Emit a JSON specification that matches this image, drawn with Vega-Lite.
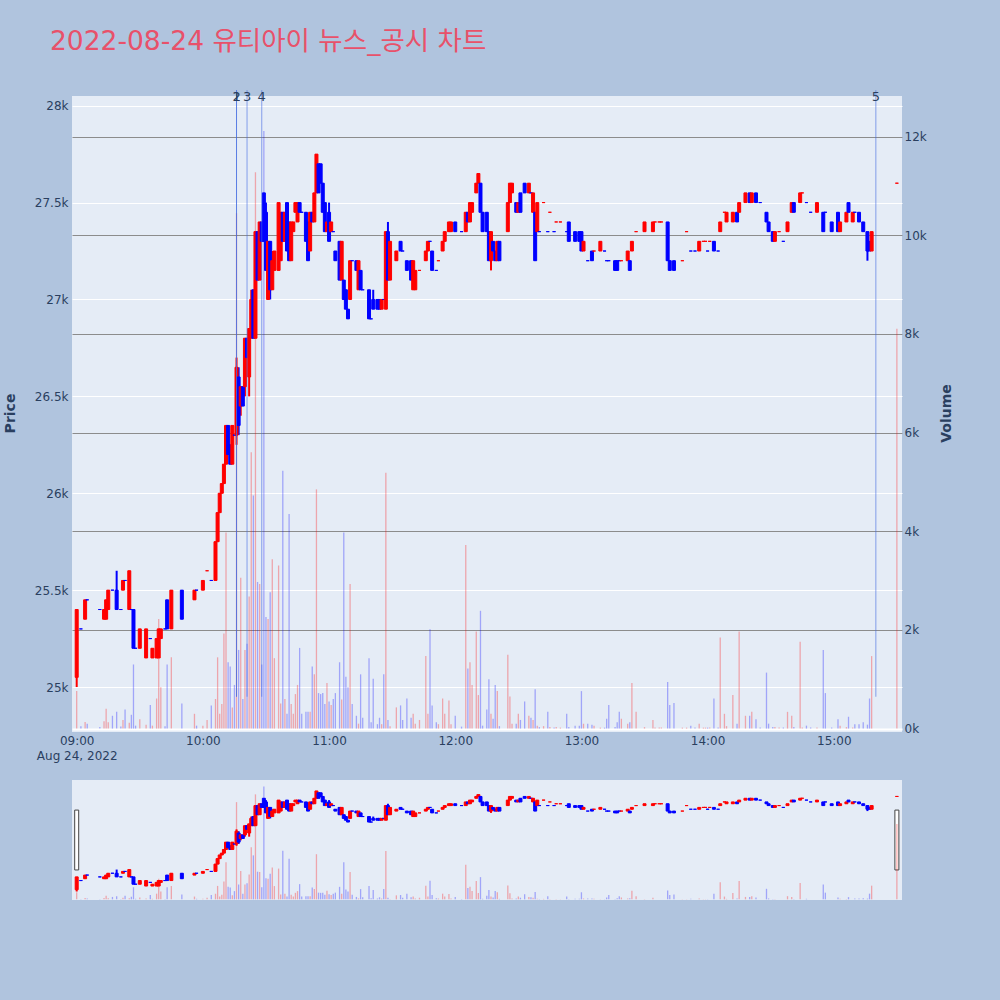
{
"$schema":"https://vega.github.io/schema/vega-lite/v6.json",
"autosize":"none","width":830,"height":804,
"padding":{"left":72,"top":96,"right":98,"bottom":100},
"background":"#B0C4DE",
"config":{"view":{"fill":"#E5ECF6","stroke":null},"axis":{"labelFont":"DejaVu Sans","titleFont":"DejaVu Sans","labelColor":"#2a3f5f","titleColor":"#2a3f5f","labelFontSize":12}},
"title":{"text":"2022-08-24 유티아이 뉴스_공시 차트","anchor":"start","frame":"group","font":"DejaVu Sans, Noto Sans CJK KR","fontSize":26.5,"fontWeight":"normal","color":"#E8516A","dx":-22,"offset":13,"baseline":"alphabetic"},
"datasets":{
"bars":[
{"t":"09:00","o":25050,"h":25400,"l":25000,"c":25400,"v":760,"d":"up"},
{"t":"09:02","o":25300,"h":25300,"l":25300,"c":25300,"v":50,"d":"down"},
{"t":"09:04","o":25350,"h":25450,"l":25350,"c":25450,"v":134,"d":"up"},
{"t":"09:05","o":25450,"h":25450,"l":25450,"c":25450,"v":100,"d":"down"},
{"t":"09:11","o":25400,"h":25400,"l":25400,"c":25400,"v":30,"d":"down"},
{"t":"09:13","o":25350,"h":25400,"l":25350,"c":25400,"v":150,"d":"up"},
{"t":"09:14","o":25350,"h":25450,"l":25350,"c":25450,"v":400,"d":"up"},
{"t":"09:15","o":25400,"h":25500,"l":25400,"c":25500,"v":130,"d":"up"},
{"t":"09:17","o":25500,"h":25500,"l":25500,"c":25500,"v":260,"d":"down"},
{"t":"09:19","o":25500,"h":25600,"l":25400,"c":25400,"v":340,"d":"down"},
{"t":"09:21","o":25400,"h":25400,"l":25400,"c":25400,"v":40,"d":"down"},
{"t":"09:22","o":25500,"h":25550,"l":25500,"c":25550,"v":175,"d":"up"},
{"t":"09:23","o":25550,"h":25550,"l":25550,"c":25550,"v":385,"d":"down"},
{"t":"09:25","o":25400,"h":25600,"l":25400,"c":25600,"v":120,"d":"up"},
{"t":"09:26","o":25400,"h":25400,"l":25400,"c":25400,"v":280,"d":"down"},
{"t":"09:27","o":25400,"h":25400,"l":25200,"c":25200,"v":1300,"d":"down"},
{"t":"09:28","o":25200,"h":25200,"l":25200,"c":25200,"v":60,"d":"down"},
{"t":"09:30","o":25200,"h":25300,"l":25200,"c":25300,"v":190,"d":"up"},
{"t":"09:33","o":25150,"h":25300,"l":25150,"c":25300,"v":80,"d":"up"},
{"t":"09:35","o":25250,"h":25250,"l":25250,"c":25250,"v":480,"d":"down"},
{"t":"09:36","o":25150,"h":25200,"l":25150,"c":25200,"v":60,"d":"up"},
{"t":"09:38","o":25150,"h":25250,"l":25150,"c":25250,"v":610,"d":"up"},
{"t":"09:39","o":25150,"h":25300,"l":25150,"c":25300,"v":2220,"d":"up"},
{"t":"09:40","o":25250,"h":25300,"l":25250,"c":25300,"v":840,"d":"up"},
{"t":"09:42","o":25300,"h":25300,"l":25300,"c":25300,"v":50,"d":"down"},
{"t":"09:43","o":25450,"h":25450,"l":25300,"c":25300,"v":1300,"d":"down"},
{"t":"09:45","o":25300,"h":25500,"l":25300,"c":25500,"v":1445,"d":"up"},
{"t":"09:50","o":25500,"h":25500,"l":25350,"c":25350,"v":510,"d":"down"},
{"t":"09:56","o":25450,"h":25500,"l":25450,"c":25500,"v":300,"d":"up"},
{"t":"09:57","o":25500,"h":25500,"l":25500,"c":25500,"v":60,"d":"down"},
{"t":"10:00","o":25500,"h":25550,"l":25500,"c":25550,"v":60,"d":"up"},
{"t":"10:02","o":25600,"h":25600,"l":25600,"c":25600,"v":175,"d":"up"},
{"t":"10:04","o":25550,"h":25550,"l":25550,"c":25550,"v":470,"d":"down"},
{"t":"10:06","o":25550,"h":25750,"l":25550,"c":25750,"v":600,"d":"up"},
{"t":"10:07","o":25750,"h":25900,"l":25750,"c":25900,"v":1445,"d":"up"},
{"t":"10:08","o":25900,"h":26000,"l":25900,"c":26000,"v":300,"d":"up"},
{"t":"10:09","o":26000,"h":26050,"l":26000,"c":26050,"v":500,"d":"up"},
{"t":"10:10","o":26050,"h":26150,"l":26050,"c":26150,"v":1930,"d":"up"},
{"t":"10:11","o":26150,"h":26350,"l":26150,"c":26350,"v":3975,"d":"up"},
{"t":"10:12","o":26350,"h":26350,"l":26200,"c":26200,"v":1345,"d":"down"},
{"t":"10:13","o":26250,"h":26250,"l":26150,"c":26150,"v":1260,"d":"down"},
{"t":"10:14","o":26150,"h":26350,"l":26150,"c":26350,"v":430,"d":"up"},
{"t":"10:15","o":26300,"h":26300,"l":26300,"c":26300,"v":885,"d":"down"},
{"t":"10:16","o":26300,"h":26700,"l":26250,"c":26650,"v":10446,"d":"up"},
{"t":"10:17","o":26600,"h":26650,"l":26300,"c":26350,"v":1595,"d":"down"},
{"t":"10:18","o":26450,"h":26550,"l":26400,"c":26550,"v":3056,"d":"up"},
{"t":"10:19","o":26550,"h":26550,"l":26450,"c":26450,"v":600,"d":"down"},
{"t":"10:20","o":26550,"h":26800,"l":26500,"c":26800,"v":1595,"d":"up"},
{"t":"10:21","o":26800,"h":26800,"l":26700,"c":26700,"v":1720,"d":"down"},
{"t":"10:22","o":26600,"h":26850,"l":26500,"c":26850,"v":2680,"d":"up"},
{"t":"10:23","o":26800,"h":27050,"l":26800,"c":27000,"v":5600,"d":"up"},
{"t":"10:24","o":27050,"h":27050,"l":26800,"c":26800,"v":4726,"d":"down"},
{"t":"10:25","o":26800,"h":27350,"l":26800,"c":27350,"v":11281,"d":"up"},
{"t":"10:26","o":27350,"h":27350,"l":27100,"c":27100,"v":2973,"d":"down"},
{"t":"10:27","o":27100,"h":27400,"l":27100,"c":27400,"v":2930,"d":"up"},
{"t":"10:28","o":27400,"h":27400,"l":27300,"c":27300,"v":1300,"d":"down"},
{"t":"10:29","o":27550,"h":27550,"l":27300,"c":27300,"v":12116,"d":"down"},
{"t":"10:30","o":27450,"h":27500,"l":27150,"c":27150,"v":2263,"d":"down"},
{"t":"10:31","o":27000,"h":27300,"l":27000,"c":27300,"v":2221,"d":"up"},
{"t":"10:32","o":27300,"h":27300,"l":27000,"c":27050,"v":2764,"d":"down"},
{"t":"10:33","o":27050,"h":27250,"l":27050,"c":27200,"v":3432,"d":"up"},
{"t":"10:34","o":27150,"h":27250,"l":27150,"c":27250,"v":1428,"d":"up"},
{"t":"10:36","o":27150,"h":27500,"l":27150,"c":27500,"v":3307,"d":"up"},
{"t":"10:37","o":27200,"h":27450,"l":27200,"c":27450,"v":510,"d":"up"},
{"t":"10:38","o":27450,"h":27450,"l":27300,"c":27300,"v":5227,"d":"down"},
{"t":"10:39","o":27300,"h":27450,"l":27300,"c":27450,"v":600,"d":"up"},
{"t":"10:40","o":27500,"h":27500,"l":27250,"c":27250,"v":300,"d":"down"},
{"t":"10:41","o":27400,"h":27400,"l":27200,"c":27200,"v":4350,"d":"down"},
{"t":"10:42","o":27200,"h":27400,"l":27200,"c":27400,"v":500,"d":"up"},
{"t":"10:43","o":27350,"h":27400,"l":27350,"c":27400,"v":300,"d":"up"},
{"t":"10:44","o":27450,"h":27500,"l":27450,"c":27500,"v":700,"d":"up"},
{"t":"10:45","o":27400,"h":27500,"l":27400,"c":27500,"v":885,"d":"up"},
{"t":"10:46","o":27500,"h":27500,"l":27450,"c":27450,"v":1636,"d":"down"},
{"t":"10:47","o":27450,"h":27450,"l":27450,"c":27450,"v":300,"d":"down"},
{"t":"10:49","o":27450,"h":27450,"l":27300,"c":27300,"v":340,"d":"down"},
{"t":"10:50","o":27400,"h":27400,"l":27200,"c":27200,"v":340,"d":"down"},
{"t":"10:51","o":27250,"h":27450,"l":27250,"c":27450,"v":340,"d":"up"},
{"t":"10:52","o":27450,"h":27450,"l":27400,"c":27400,"v":1260,"d":"down"},
{"t":"10:53","o":27400,"h":27550,"l":27400,"c":27550,"v":1100,"d":"up"},
{"t":"10:54","o":27550,"h":27750,"l":27550,"c":27750,"v":4850,"d":"up"},
{"t":"10:55","o":27700,"h":27700,"l":27550,"c":27550,"v":720,"d":"down"},
{"t":"10:56","o":27700,"h":27700,"l":27600,"c":27600,"v":700,"d":"down"},
{"t":"10:57","o":27600,"h":27600,"l":27450,"c":27450,"v":720,"d":"down"},
{"t":"10:58","o":27500,"h":27500,"l":27350,"c":27350,"v":500,"d":"down"},
{"t":"10:59","o":27350,"h":27400,"l":27350,"c":27400,"v":925,"d":"up"},
{"t":"11:00","o":27450,"h":27500,"l":27300,"c":27300,"v":550,"d":"down"},
{"t":"11:01","o":27350,"h":27400,"l":27350,"c":27400,"v":480,"d":"up"},
{"t":"11:02","o":27350,"h":27350,"l":27350,"c":27350,"v":600,"d":"down"},
{"t":"11:03","o":27250,"h":27250,"l":27200,"c":27200,"v":720,"d":"down"},
{"t":"11:05","o":27300,"h":27300,"l":27100,"c":27100,"v":1345,"d":"down"},
{"t":"11:06","o":27100,"h":27300,"l":27100,"c":27300,"v":590,"d":"up"},
{"t":"11:07","o":27100,"h":27100,"l":27000,"c":27000,"v":3975,"d":"down"},
{"t":"11:08","o":27050,"h":27050,"l":26950,"c":26950,"v":1050,"d":"down"},
{"t":"11:09","o":26950,"h":26950,"l":26900,"c":26900,"v":840,"d":"down"},
{"t":"11:10","o":27000,"h":27200,"l":27000,"c":27200,"v":2930,"d":"up"},
{"t":"11:11","o":27200,"h":27200,"l":27200,"c":27200,"v":500,"d":"down"},
{"t":"11:13","o":27200,"h":27200,"l":27150,"c":27150,"v":260,"d":"down"},
{"t":"11:14","o":27050,"h":27200,"l":27050,"c":27200,"v":100,"d":"up"},
{"t":"11:15","o":27150,"h":27150,"l":27050,"c":27050,"v":1100,"d":"down"},
{"t":"11:16","o":27050,"h":27050,"l":27050,"c":27050,"v":220,"d":"down"},
{"t":"11:19","o":27050,"h":27050,"l":26900,"c":26900,"v":1428,"d":"down"},
{"t":"11:20","o":26900,"h":26900,"l":26900,"c":26900,"v":130,"d":"down"},
{"t":"11:21","o":27000,"h":27050,"l":26950,"c":26950,"v":1010,"d":"down"},
{"t":"11:23","o":27000,"h":27000,"l":26950,"c":26950,"v":90,"d":"down"},
{"t":"11:24","o":27000,"h":27000,"l":26950,"c":26950,"v":220,"d":"down"},
{"t":"11:25","o":26950,"h":27000,"l":26950,"c":27000,"v":90,"d":"up"},
{"t":"11:26","o":27000,"h":27000,"l":27000,"c":27000,"v":1100,"d":"down"},
{"t":"11:27","o":26950,"h":27350,"l":26950,"c":27350,"v":5185,"d":"up"},
{"t":"11:28","o":27350,"h":27400,"l":27100,"c":27100,"v":175,"d":"down"},
{"t":"11:29","o":27100,"h":27300,"l":27100,"c":27300,"v":50,"d":"up"},
{"t":"11:32","o":27200,"h":27250,"l":27200,"c":27250,"v":430,"d":"up"},
{"t":"11:34","o":27300,"h":27300,"l":27250,"c":27250,"v":470,"d":"down"},
{"t":"11:35","o":27250,"h":27250,"l":27250,"c":27250,"v":175,"d":"down"},
{"t":"11:37","o":27200,"h":27200,"l":27150,"c":27150,"v":610,"d":"down"},
{"t":"11:39","o":27200,"h":27200,"l":27100,"c":27100,"v":220,"d":"down"},
{"t":"11:40","o":27050,"h":27200,"l":27050,"c":27200,"v":300,"d":"up"},
{"t":"11:41","o":27050,"h":27150,"l":27050,"c":27150,"v":100,"d":"up"},
{"t":"11:43","o":27150,"h":27150,"l":27150,"c":27150,"v":175,"d":"up"},
{"t":"11:46","o":27200,"h":27250,"l":27200,"c":27250,"v":1470,"d":"up"},
{"t":"11:47","o":27250,"h":27300,"l":27250,"c":27300,"v":300,"d":"up"},
{"t":"11:48","o":27300,"h":27300,"l":27300,"c":27300,"v":2012,"d":"down"},
{"t":"11:49","o":27250,"h":27250,"l":27150,"c":27150,"v":470,"d":"down"},
{"t":"11:51","o":27150,"h":27150,"l":27150,"c":27150,"v":130,"d":"down"},
{"t":"11:52","o":27200,"h":27200,"l":27200,"c":27200,"v":90,"d":"up"},
{"t":"11:54","o":27250,"h":27300,"l":27250,"c":27300,"v":610,"d":"up"},
{"t":"11:55","o":27300,"h":27350,"l":27300,"c":27350,"v":300,"d":"up"},
{"t":"11:57","o":27350,"h":27400,"l":27350,"c":27400,"v":570,"d":"up"},
{"t":"11:58","o":27350,"h":27400,"l":27350,"c":27400,"v":90,"d":"up"},
{"t":"12:00","o":27400,"h":27400,"l":27350,"c":27350,"v":260,"d":"down"},
{"t":"12:03","o":27350,"h":27350,"l":27350,"c":27350,"v":40,"d":"down"},
{"t":"12:05","o":27350,"h":27450,"l":27350,"c":27450,"v":3724,"d":"up"},
{"t":"12:06","o":27450,"h":27450,"l":27400,"c":27400,"v":1220,"d":"down"},
{"t":"12:07","o":27400,"h":27500,"l":27400,"c":27500,"v":1345,"d":"up"},
{"t":"12:08","o":27450,"h":27500,"l":27450,"c":27500,"v":885,"d":"up"},
{"t":"12:10","o":27550,"h":27600,"l":27550,"c":27600,"v":1970,"d":"up"},
{"t":"12:11","o":27600,"h":27650,"l":27600,"c":27650,"v":680,"d":"up"},
{"t":"12:12","o":27600,"h":27600,"l":27450,"c":27450,"v":2388,"d":"down"},
{"t":"12:13","o":27450,"h":27450,"l":27350,"c":27350,"v":60,"d":"down"},
{"t":"12:15","o":27450,"h":27450,"l":27350,"c":27350,"v":385,"d":"down"},
{"t":"12:16","o":27350,"h":27350,"l":27200,"c":27200,"v":1000,"d":"down"},
{"t":"12:17","o":27200,"h":27350,"l":27150,"c":27350,"v":300,"d":"up"},
{"t":"12:18","o":27300,"h":27300,"l":27250,"c":27250,"v":200,"d":"down"},
{"t":"12:19","o":27250,"h":27250,"l":27200,"c":27200,"v":885,"d":"down"},
{"t":"12:20","o":27200,"h":27300,"l":27200,"c":27300,"v":760,"d":"up"},
{"t":"12:21","o":27300,"h":27300,"l":27200,"c":27200,"v":50,"d":"down"},
{"t":"12:25","o":27350,"h":27500,"l":27350,"c":27500,"v":1495,"d":"up"},
{"t":"12:26","o":27500,"h":27600,"l":27500,"c":27600,"v":650,"d":"up"},
{"t":"12:27","o":27550,"h":27600,"l":27550,"c":27600,"v":100,"d":"up"},
{"t":"12:29","o":27500,"h":27500,"l":27450,"c":27450,"v":100,"d":"down"},
{"t":"12:30","o":27450,"h":27500,"l":27450,"c":27500,"v":300,"d":"up"},
{"t":"12:31","o":27550,"h":27550,"l":27450,"c":27450,"v":175,"d":"down"},
{"t":"12:33","o":27600,"h":27600,"l":27550,"c":27550,"v":550,"d":"down"},
{"t":"12:35","o":27550,"h":27600,"l":27550,"c":27600,"v":260,"d":"up"},
{"t":"12:36","o":27550,"h":27550,"l":27550,"c":27550,"v":220,"d":"down"},
{"t":"12:37","o":27450,"h":27550,"l":27450,"c":27550,"v":175,"d":"up"},
{"t":"12:38","o":27450,"h":27450,"l":27200,"c":27200,"v":800,"d":"down"},
{"t":"12:39","o":27350,"h":27500,"l":27350,"c":27500,"v":60,"d":"up"},
{"t":"12:40","o":27350,"h":27350,"l":27350,"c":27350,"v":30,"d":"down"},
{"t":"12:42","o":27500,"h":27500,"l":27500,"c":27500,"v":50,"d":"up"},
{"t":"12:44","o":27350,"h":27350,"l":27350,"c":27350,"v":340,"d":"down"},
{"t":"12:45","o":27450,"h":27450,"l":27450,"c":27450,"v":30,"d":"up"},
{"t":"12:47","o":27350,"h":27350,"l":27350,"c":27350,"v":20,"d":"down"},
{"t":"12:48","o":27400,"h":27400,"l":27400,"c":27400,"v":30,"d":"up"},
{"t":"12:50","o":27400,"h":27400,"l":27400,"c":27400,"v":20,"d":"up"},
{"t":"12:53","o":27350,"h":27350,"l":27350,"c":27350,"v":300,"d":"down"},
{"t":"12:54","o":27400,"h":27400,"l":27300,"c":27300,"v":30,"d":"down"},
{"t":"12:57","o":27350,"h":27350,"l":27300,"c":27300,"v":60,"d":"down"},
{"t":"12:59","o":27350,"h":27350,"l":27300,"c":27300,"v":60,"d":"down"},
{"t":"13:00","o":27350,"h":27350,"l":27250,"c":27250,"v":760,"d":"down"},
{"t":"13:01","o":27250,"h":27300,"l":27250,"c":27300,"v":100,"d":"up"},
{"t":"13:03","o":27200,"h":27200,"l":27200,"c":27200,"v":100,"d":"down"},
{"t":"13:05","o":27250,"h":27250,"l":27200,"c":27200,"v":80,"d":"down"},
{"t":"13:06","o":27250,"h":27250,"l":27250,"c":27250,"v":60,"d":"up"},
{"t":"13:09","o":27250,"h":27300,"l":27250,"c":27300,"v":20,"d":"up"},
{"t":"13:11","o":27250,"h":27250,"l":27250,"c":27250,"v":20,"d":"down"},
{"t":"13:12","o":27200,"h":27200,"l":27200,"c":27200,"v":200,"d":"down"},
{"t":"13:13","o":27200,"h":27200,"l":27200,"c":27200,"v":480,"d":"down"},
{"t":"13:16","o":27200,"h":27200,"l":27150,"c":27150,"v":30,"d":"down"},
{"t":"13:17","o":27200,"h":27200,"l":27150,"c":27150,"v":130,"d":"down"},
{"t":"13:18","o":27200,"h":27200,"l":27200,"c":27200,"v":340,"d":"down"},
{"t":"13:19","o":27200,"h":27200,"l":27200,"c":27200,"v":200,"d":"up"},
{"t":"13:22","o":27200,"h":27250,"l":27200,"c":27250,"v":100,"d":"up"},
{"t":"13:23","o":27200,"h":27200,"l":27150,"c":27150,"v":130,"d":"down"},
{"t":"13:24","o":27250,"h":27300,"l":27250,"c":27300,"v":925,"d":"up"},
{"t":"13:26","o":27350,"h":27350,"l":27350,"c":27350,"v":340,"d":"up"},
{"t":"13:30","o":27350,"h":27400,"l":27350,"c":27400,"v":30,"d":"up"},
{"t":"13:34","o":27350,"h":27400,"l":27350,"c":27400,"v":175,"d":"up"},
{"t":"13:35","o":27400,"h":27400,"l":27400,"c":27400,"v":20,"d":"up"},
{"t":"13:37","o":27400,"h":27400,"l":27400,"c":27400,"v":20,"d":"up"},
{"t":"13:38","o":27400,"h":27400,"l":27400,"c":27400,"v":20,"d":"up"},
{"t":"13:41","o":27400,"h":27400,"l":27200,"c":27200,"v":945,"d":"down"},
{"t":"13:42","o":27200,"h":27200,"l":27150,"c":27150,"v":480,"d":"down"},
{"t":"13:44","o":27200,"h":27200,"l":27150,"c":27150,"v":520,"d":"down"},
{"t":"13:48","o":27200,"h":27200,"l":27200,"c":27200,"v":20,"d":"up"},
{"t":"13:50","o":27350,"h":27350,"l":27350,"c":27350,"v":20,"d":"up"},
{"t":"13:52","o":27250,"h":27250,"l":27250,"c":27250,"v":60,"d":"down"},
{"t":"13:54","o":27250,"h":27250,"l":27250,"c":27250,"v":20,"d":"down"},
{"t":"13:56","o":27250,"h":27300,"l":27250,"c":27300,"v":100,"d":"up"},
{"t":"13:58","o":27300,"h":27300,"l":27300,"c":27300,"v":20,"d":"up"},
{"t":"13:59","o":27300,"h":27300,"l":27300,"c":27300,"v":20,"d":"up"},
{"t":"14:00","o":27250,"h":27250,"l":27250,"c":27250,"v":20,"d":"down"},
{"t":"14:01","o":27300,"h":27300,"l":27300,"c":27300,"v":20,"d":"up"},
{"t":"14:03","o":27300,"h":27300,"l":27250,"c":27250,"v":610,"d":"down"},
{"t":"14:05","o":27250,"h":27250,"l":27250,"c":27250,"v":20,"d":"down"},
{"t":"14:06","o":27350,"h":27400,"l":27350,"c":27400,"v":1845,"d":"up"},
{"t":"14:08","o":27450,"h":27450,"l":27450,"c":27450,"v":300,"d":"up"},
{"t":"14:09","o":27400,"h":27450,"l":27400,"c":27450,"v":50,"d":"up"},
{"t":"14:12","o":27400,"h":27450,"l":27400,"c":27450,"v":680,"d":"up"},
{"t":"14:14","o":27450,"h":27450,"l":27400,"c":27400,"v":100,"d":"down"},
{"t":"14:15","o":27450,"h":27500,"l":27450,"c":27500,"v":1970,"d":"up"},
{"t":"14:18","o":27500,"h":27550,"l":27500,"c":27550,"v":260,"d":"up"},
{"t":"14:20","o":27550,"h":27550,"l":27500,"c":27500,"v":260,"d":"down"},
{"t":"14:21","o":27500,"h":27550,"l":27500,"c":27550,"v":340,"d":"up"},
{"t":"14:23","o":27550,"h":27550,"l":27500,"c":27500,"v":190,"d":"down"},
{"t":"14:25","o":27500,"h":27500,"l":27500,"c":27500,"v":20,"d":"down"},
{"t":"14:28","o":27450,"h":27450,"l":27400,"c":27400,"v":1135,"d":"down"},
{"t":"14:29","o":27400,"h":27400,"l":27350,"c":27350,"v":100,"d":"down"},
{"t":"14:31","o":27350,"h":27350,"l":27300,"c":27300,"v":30,"d":"down"},
{"t":"14:32","o":27300,"h":27350,"l":27300,"c":27350,"v":30,"d":"up"},
{"t":"14:34","o":27350,"h":27350,"l":27350,"c":27350,"v":20,"d":"up"},
{"t":"14:36","o":27300,"h":27300,"l":27300,"c":27300,"v":20,"d":"down"},
{"t":"14:38","o":27350,"h":27400,"l":27350,"c":27400,"v":340,"d":"up"},
{"t":"14:40","o":27450,"h":27500,"l":27450,"c":27500,"v":260,"d":"up"},
{"t":"14:41","o":27500,"h":27500,"l":27450,"c":27450,"v":30,"d":"down"},
{"t":"14:44","o":27500,"h":27550,"l":27500,"c":27550,"v":1762,"d":"up"},
{"t":"14:45","o":27550,"h":27550,"l":27550,"c":27550,"v":20,"d":"up"},
{"t":"14:47","o":27500,"h":27500,"l":27500,"c":27500,"v":60,"d":"down"},
{"t":"14:49","o":27450,"h":27450,"l":27450,"c":27450,"v":20,"d":"down"},
{"t":"14:52","o":27450,"h":27500,"l":27450,"c":27500,"v":20,"d":"up"},
{"t":"14:55","o":27450,"h":27450,"l":27350,"c":27350,"v":1595,"d":"down"},
{"t":"14:56","o":27450,"h":27450,"l":27450,"c":27450,"v":720,"d":"down"},
{"t":"14:59","o":27400,"h":27400,"l":27350,"c":27350,"v":20,"d":"down"},
{"t":"15:02","o":27450,"h":27450,"l":27350,"c":27350,"v":190,"d":"down"},
{"t":"15:03","o":27350,"h":27400,"l":27350,"c":27400,"v":60,"d":"up"},
{"t":"15:06","o":27400,"h":27450,"l":27400,"c":27450,"v":30,"d":"up"},
{"t":"15:07","o":27500,"h":27500,"l":27450,"c":27450,"v":240,"d":"down"},
{"t":"15:09","o":27400,"h":27450,"l":27400,"c":27450,"v":20,"d":"up"},
{"t":"15:10","o":27450,"h":27450,"l":27450,"c":27450,"v":90,"d":"down"},
{"t":"15:12","o":27450,"h":27450,"l":27400,"c":27400,"v":90,"d":"down"},
{"t":"15:14","o":27400,"h":27400,"l":27350,"c":27350,"v":130,"d":"down"},
{"t":"15:16","o":27350,"h":27350,"l":27200,"c":27250,"v":80,"d":"down"},
{"t":"15:17","o":27300,"h":27300,"l":27250,"c":27250,"v":610,"d":"down"},
{"t":"15:18","o":27250,"h":27350,"l":27250,"c":27350,"v":1470,"d":"up"},
{"t":"15:30","o":27600,"h":27600,"l":27600,"c":27600,"v":8108,"d":"up"}
],
"events":[
{"t":"10:16","n":"1"},
{"t":"10:16","n":"2"},
{"t":"10:21","n":"3"},
{"t":"10:28","n":"4"},
{"t":"15:20","n":"5"}
]
},
"data":{"name":"bars","format":{"parse":{"t":"date:'%H:%M'"}}},
"resolve":{"scale":{"y":"independent"},"axis":{"y":"independent"}},
"layer":[
{
"mark":{"type":"bar","opacity":0.3,"size":1.3},
"encoding":{
"x":{"field":"t","type":"temporal","scale":{"nice":false,"padding":0,"domain":[{"year":1900,"month":1,"date":1,"hours":8,"minutes":57,"seconds":46},{"year":1900,"month":1,"date":1,"hours":15,"minutes":32,"seconds":26}]},
"axis":{"orient":"bottom","offset":-168,"title":null,"values":[{"year":1900,"month":1,"date":1,"hours":9},{"year":1900,"month":1,"date":1,"hours":10},{"year":1900,"month":1,"date":1,"hours":11},{"year":1900,"month":1,"date":1,"hours":12},{"year":1900,"month":1,"date":1,"hours":13},{"year":1900,"month":1,"date":1,"hours":14},{"year":1900,"month":1,"date":1,"hours":15}],
"labelExpr":"hours(datum.value) == 9 ? ['09:00', 'Aug 24, 2022'] : timeFormat(datum.value, '%H:%M')","grid":false,"domain":false,"ticks":false,"labelPadding":3,"labelLineHeight":15,"labelFlush":false,"labelOverlap":false,"zindex":1}},
"y":{"field":"v","type":"quantitative","scale":{"domain":[-3475,12825],"nice":false,"zero":false},
"axis":{"orient":"right","title":"Volume","values":[0,2000,4000,6000,8000,10000,12000],"format":"~s","grid":true,"gridColor":{"condition":{"test":"datum.value === 0","value":"#ffffff"},"value":"#8c8c8c"},"gridWidth":{"condition":{"test":"datum.value === 0","value":2},"value":1},"domain":false,"ticks":false,"labelPadding":2,"titleFontSize":14,"titleFontWeight":"bold","titleX":44,"titleY":317,"titleAngle":270,"titleAlign":"center","titleBaseline":"middle"}},
"y2":{"datum":0},
"color":{"field":"d","type":"nominal","scale":{"domain":["up","down"],"range":["#ff0000","#0000ff"]},"legend":null}
}
},
{
"layer":[
{"mark":{"type":"rule","strokeWidth":2},
"encoding":{
"x":{"field":"t","type":"temporal"},
"y":{"field":"l","type":"quantitative","scale":{"domain":[23901,28050],"nice":false,"zero":false},
"axis":{"orient":"left","title":"Price","values":[25000,25500,26000,26500,27000,27500,28000],"format":"~s","grid":true,"gridColor":"#ffffff","gridWidth":1,"domain":false,"ticks":false,"labelPadding":4,"titleFontSize":14,"titleFontWeight":"bold","titleX":-62,"titleY":317,"titleAngle":270,"titleAlign":"center","titleBaseline":"middle"}},
"y2":{"field":"h"},
"color":{"field":"d","type":"nominal","legend":null}}},
{"mark":{"type":"bar","size":3,"strokeWidth":1},
"encoding":{
"x":{"field":"t","type":"temporal"},
"y":{"field":"o","type":"quantitative"},
"y2":{"field":"c"},
"color":{"field":"d","type":"nominal","legend":null},
"stroke":{"field":"d","type":"nominal","scale":{"domain":["up","down"],"range":["#ff0000","#0000ff"]},"legend":null}}},
{"data":{"values":[{}]},
"mark":{"type":"rect","color":"#B0C4DE"},
"encoding":{
"x":{"datum":{"year":1900,"month":1,"date":1,"hours":8,"minutes":57,"seconds":46},"type":"temporal"},
"x2":{"datum":{"year":1900,"month":1,"date":1,"hours":15,"minutes":32,"seconds":26}},
"y":{"datum":24768,"type":"quantitative"},
"y2":{"datum":24520}}},
{"data":{"values":[{"t":"09:00"},{"t":"15:30"}],"format":{"parse":{"t":"date:'%H:%M'"}}},
"mark":{"type":"bar","size":4,"fill":"#ffffff","stroke":"#444444","strokeWidth":1},
"encoding":{
"x":{"field":"t","type":"temporal"},
"y":{"datum":24365,"type":"quantitative"},
"y2":{"datum":24056}}},
{"data":{"name":"events","format":{"parse":{"t":"date:'%H:%M'"}}},
"mark":{"type":"rule","color":"royalblue","opacity":0.6,"strokeWidth":1},
"encoding":{
"x":{"field":"t","type":"temporal"},
"y":{"datum":24950,"type":"quantitative"},
"y2":{"datum":28080}}},
{"data":{"name":"events","format":{"parse":{"t":"date:'%H:%M'"}}},
"mark":{"type":"text","font":"DejaVu Sans","fontSize":13,"color":"#2a3f5f","baseline":"middle","align":"center","dy":0.5},
"encoding":{
"x":{"field":"t","type":"temporal"},
"y":{"datum":28050,"type":"quantitative"},
"text":{"field":"n"}}}
]
},
{
"mark":{"type":"bar","opacity":0.3,"size":1.3},
"encoding":{
"x":{"field":"t","type":"temporal"},
"y":{"field":"v","type":"quantitative","scale":{"domain":[-70,86328],"nice":false,"zero":false},"axis":null},
"y2":{"datum":0},
"color":{"field":"d","type":"nominal","legend":null}
}
},
{
"layer":[
{"mark":{"type":"rule","strokeWidth":2},
"encoding":{
"x":{"field":"t","type":"temporal"},
"y":{"field":"l","type":"quantitative","scale":{"domain":[24768,46757],"nice":false,"zero":false},"axis":null},
"y2":{"field":"h"},
"color":{"field":"d","type":"nominal","legend":null}}},
{"mark":{"type":"bar","size":3,"strokeWidth":1},
"encoding":{
"x":{"field":"t","type":"temporal"},
"y":{"field":"o","type":"quantitative"},
"y2":{"field":"c"},
"color":{"field":"d","type":"nominal","legend":null},
"stroke":{"field":"d","type":"nominal","legend":null}}}
]
}
]
}
